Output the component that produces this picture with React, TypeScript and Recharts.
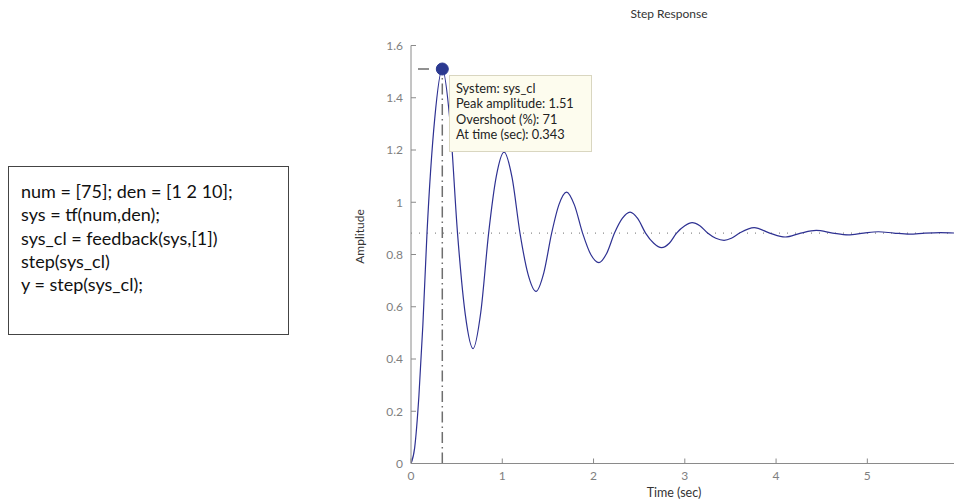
import { LineChart, Line, XAxis, YAxis, ReferenceLine, ReferenceDot } from "recharts";

const time = [
  0, 0.04, 0.087, 0.13, 0.175, 0.26, 0.343, 0.427, 0.51, 0.595, 0.68, 0.765, 0.85, 0.935, 1.02, 1.107,
  1.195, 1.282, 1.37, 1.455, 1.54, 1.62, 1.705, 1.79, 1.88, 1.97, 2.06, 2.145, 2.23, 2.315, 2.4, 2.485,
  2.57, 2.66, 2.745, 2.83, 2.91, 3.0, 3.08, 3.165, 3.25, 3.34, 3.43, 3.51, 3.6, 3.76, 3.93, 4.1, 4.27,
  4.44, 4.62, 4.79, 4.96, 5.12, 5.29, 5.46, 5.63, 5.8, 5.966,
];
const amplitude = [
  0, 0.06, 0.26, 0.53, 0.88, 1.32, 1.51, 1.31, 0.88, 0.57, 0.44, 0.58, 0.88, 1.1, 1.192, 1.095,
  0.88, 0.725, 0.659, 0.73, 0.88, 0.99, 1.039, 0.99, 0.882, 0.8, 0.769, 0.805, 0.882, 0.938, 0.962, 0.937,
  0.882, 0.843, 0.826, 0.843, 0.882, 0.91, 0.922, 0.91, 0.882, 0.862, 0.854, 0.862, 0.882, 0.903, 0.882, 0.867, 0.882,
  0.892, 0.882, 0.875, 0.882, 0.887, 0.882, 0.878, 0.882, 0.884, 0.882,
];

const xTicks = [0, 1, 2, 3, 4, 5];
const yTicks = [0, 0.2, 0.4, 0.6, 0.8, 1, 1.2, 1.4, 1.6];

const steadyState = 0.882;
const peakTime = 0.343;
const peakAmp = 1.51;

const tipLines = ["System: sys_cl", "Peak amplitude: 1.51", "Overshoot (%): 71", "At time (sec): 0.343"];
const codeLines = [
  "num = [75]; den = [1 2 10];",
  "sys = tf(num,den);",
  "sys_cl = feedback(sys,[1])",
  "step(sys_cl)",
  "y = step(sys_cl);",
];

const data = time.map((t, i) => ({ t, y: amplitude[i] }));

const FONT = "Lato, 'DejaVu Sans', sans-serif";
const AXIS = "#8a8a8a";
const tickStyle = { fontSize: 12, fill: "#7f7f7f", fontFamily: FONT };
const blank = () => "";

export default function App() {
  return (
    <div
      style={{
        position: "absolute",
        left: 0,
        top: 0,
        width: 954,
        height: 503,
        overflow: "hidden",
        background: "#fff",
        fontFamily: FONT,
      }}
    >
      <LineChart width={960} height={503} data={data} margin={{ top: 45.5, right: 4.5, bottom: 19.5, left: 371 }}>
        <XAxis
          dataKey="t"
          type="number"
          domain={[0, 5.966]}
          ticks={xTicks}
          allowDataOverflow
          height={20}
          stroke={AXIS}
          tickSize={-5}
          tickMargin={13}
          tick={tickStyle}
        />
        <XAxis
          xAxisId="top"
          orientation="top"
          dataKey="t"
          type="number"
          domain={[0, 5.966]}
          ticks={xTicks}
          height={0}
          stroke={AXIS}
          tickSize={-5}
          tickFormatter={blank}
        />
        <YAxis
          type="number"
          domain={[0, 1.6]}
          ticks={yTicks}
          width={40}
          stroke={AXIS}
          tickSize={-5}
          tickMargin={13}
          tick={tickStyle}
        />
        <YAxis
          yAxisId="right"
          orientation="right"
          type="number"
          domain={[0, 1.6]}
          ticks={yTicks}
          width={0}
          stroke={AXIS}
          tickSize={-5}
          tickFormatter={blank}
        />
        <ReferenceLine y={steadyState} stroke="#8c8c8c" strokeDasharray="1 7" strokeWidth={1.2} />
        <ReferenceLine
          segment={[
            { x: peakTime, y: 0 },
            { x: peakTime, y: peakAmp },
          ]}
          stroke="#6e6e6e"
          strokeWidth={1.5}
          strokeDasharray="11 4 1.5 4"
        />
        <ReferenceLine
          segment={[
            { x: 0, y: peakAmp },
            { x: peakTime, y: peakAmp },
          ]}
          stroke="#6e6e6e"
          strokeWidth={1.5}
          strokeDasharray="0 7 11 40"
        />
        <Line
          type="monotone"
          dataKey="y"
          stroke="#2e3192"
          strokeWidth={1.2}
          dot={false}
          isAnimationActive={false}
        />
        <ReferenceDot x={peakTime} y={peakAmp} r={6} fill="#2b3990" stroke="#2b3990" />
      </LineChart>

      <div
        style={{
          position: "absolute",
          left: 0,
          width: 1338,
          top: 6,
          textAlign: "center",
          fontSize: 12,
          color: "#333",
        }}
      >
        Step Response
      </div>
      <div
        style={{
          position: "absolute",
          left: 574,
          width: 200,
          top: 485,
          textAlign: "center",
          fontSize: 12.5,
          color: "#333",
        }}
      >
        Time (sec)
      </div>
      <div
        style={{
          position: "absolute",
          left: 309,
          top: 229,
          width: 100,
          textAlign: "center",
          fontSize: 12,
          color: "#333",
          transform: "rotate(-90deg)",
        }}
      >
        Amplitude
      </div>

      <div
        style={{
          position: "absolute",
          left: 449,
          top: 75,
          width: 141,
          height: 75,
          boxSizing: "content-box",
          background: "#fdfcee",
          border: "1px solid #d9d6c0",
        }}
      >
        <div style={{ padding: "5px 0 0 6px", fontSize: 12.8, lineHeight: "15.3px", color: "#222" }}>
          {tipLines.map((l) => (
            <div key={l}>{l}</div>
          ))}
        </div>
      </div>

      <div
        style={{
          position: "absolute",
          left: 8,
          top: 166,
          width: 281,
          height: 169,
          border: "1px solid #444",
          padding: "13px 0 0 12px",
          boxSizing: "border-box",
          fontSize: 18,
          lineHeight: "23.3px",
          color: "#111",
        }}
      >
        {codeLines.map((l) => (
          <div key={l}>{l}</div>
        ))}
      </div>
    </div>
  );
}
